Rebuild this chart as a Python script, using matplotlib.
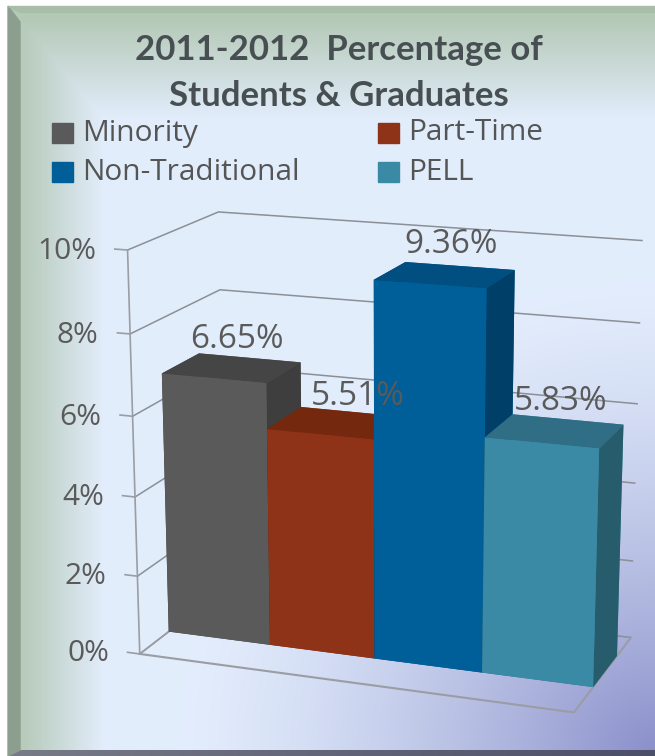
import numpy as np
import matplotlib
matplotlib.use("Agg")
import matplotlib.pyplot as plt
from matplotlib.patches import Rectangle, Polygon
from mpl_toolkits.mplot3d import proj3d

# dados do grafico
categorias = ["Minority", "Part-Time", "Non-Traditional", "PELL"]
valores = [6.65, 5.51, 9.36, 5.83]
rotulos = ["6.65%", "5.51%", "9.36%", "5.83%"]
ticks_z = [0, 2, 4, 6, 8, 10]
ticks_txt = ["0%", "2%", "4%", "6%", "8%", "10%"]

# cores: frente, topo, lateral
frente = ["#5a5a5a", "#8f3318", "#005f99", "#3a8aa5"]
topo = ["#454545", "#74290f", "#004f80", "#2f6e85"]
lado = ["#3e3e3e", "#6a2610", "#003f68", "#265c6c"]

L, A = 655, 756
plt.rcParams["font.family"] = ["Open Sans", "DejaVu Sans"]
fig = plt.figure(figsize=(L / 100, A / 100), dpi=100)

# fundo em degrade
fundo = fig.add_axes([0, 0, 1, 1])
gx, gy = np.meshgrid(np.arange(L) + 0.5, np.arange(A) + 0.5)
azul = np.array([0.89, 0.93, 0.99])
verde = np.array([0.71, 0.79, 0.72])
roxo = np.array([0.54, 0.56, 0.79])
p_verde = np.maximum(np.clip((120 - gy) / 100, 0, 1), np.clip((105 - gx) / 80, 0, 1) * 0.95)
dist = np.hypot((L - gx) / 480, (A - gy) / 480)
p_roxo = np.clip(1 - dist, 0, 1) ** 1.4
img = azul * (1 - p_verde[..., None]) + verde * p_verde[..., None]
img = img * (1 - p_roxo[..., None]) + roxo * p_roxo[..., None]
fundo.imshow(img, extent=(0, L, A, 0), aspect="auto")
fundo.add_patch(Rectangle((0, 0), 8, A, color="white"))
fundo.add_patch(Rectangle((0, 0), L, 6, color="white"))
fundo.add_patch(Polygon([(8, 6), (20, 22), (20, 750), (8, 756)], color="#8c9f8f"))
fundo.add_patch(Polygon([(8, 6), (L, 6), (L, 12), (20, 12)], color="#a9bea9"))
fundo.imshow(np.linspace(0, 1, 200)[None, :, None] * np.array([-0.17, -0.17, -0.12]) + np.array([0.47, 0.48, 0.53]),
             extent=(8, L, 756, 750), aspect="auto")
fundo.set_xlim(0, L)
fundo.set_ylim(A, 0)
fundo.axis("off")

fundo.text(339, 50, "2011-2012  Percentage of", ha="center", va="center", fontsize=25, fontweight="bold", color="#474f52", family="Lato")
fundo.text(339, 96, "Students & Graduates", ha="center", va="center", fontsize=25, fontweight="bold", color="#474f52", family="Lato")

# legenda
pos_leg = [(52, 133), (378, 133), (52, 172), (378, 172)]
for (x, y), nome, c in zip(pos_leg, categorias, frente):
    fundo.add_patch(Rectangle((x, y - 10), 21, 20, color=c))
    fundo.text(x + 30, y, nome, va="center", fontsize=21.5, color="#555555")

# grafico 3d
ax = fig.add_axes([0.079, -0.0166, 1.0, 0.82], projection="3d", computed_zorder=False)
ax.patch.set_alpha(0)
ax.set_proj_type("persp", focal_length=0.72)
ax.view_init(elev=16, azim=-70)
ax.set_box_aspect((4, 1.9, 3.65), zoom=1.025)
ax.set_xlim(0, 4)
ax.set_ylim(0, 1)
ax.set_zlim(0, 10)
ax.set_xticks([])
ax.set_yticks([])
ax.set_zticks(ticks_z)
ax.set_zticklabels([])
for eixo in (ax.xaxis, ax.yaxis, ax.zaxis):
    eixo.set_pane_color((1, 1, 1, 0))
    eixo.pane.set_edgecolor((0, 0, 0, 0))
    eixo.line.set_color((0, 0, 0, 0))
    eixo._axinfo["grid"]["color"] = "#8b8f96"
    eixo._axinfo["grid"]["linewidth"] = 1.1
    eixo._axinfo["tick"]["inward_factor"] = 0
    eixo._axinfo["tick"]["outward_factor"] = 0


def texto(x, y, z, s, **kw):
    # texto 2d na posicao projetada do ponto 3d
    px, py, _ = proj3d.proj_transform(x, y, z, ax.get_proj())
    ax.text2D(px, py, s, transform=ax.transData, va="center", color="#5a5a5a", zorder=10, **kw)


# contorno do piso e eixo vertical
cinza = "#9a9da3"
ax.plot([0, 4, 4], [0, 0, 1], [0, 0, 0], color=cinza, lw=1.5, zorder=1)
ax.plot([0, 0], [0, 1], [0, 0], color=cinza, lw=1.2, zorder=1)
ax.plot([0, 0], [0, 0], [0, 10], color=cinza, lw=1.2, zorder=1)
for z, t in zip(ticks_z, ticks_txt):
    ax.plot([-0.12, 0], [0, 0], [z, z], color=cinza, lw=1.2, zorder=1)
    texto(-0.3, 0, z - 0.1, t, ha="right", fontsize=21.5)

y_ini, prof = 0.32, 0.42
desloc_rot = [0.55, 0.7, 0.55, 0.55]
for i, v in enumerate(valores):
    cores_faces = [topo[i], topo[i], frente[i], frente[i], lado[i], lado[i]]
    ax.bar3d(i, y_ini, 0, 1, prof, v, color=cores_faces, shade=False, edgecolor="none", zorder=2 + i)
    texto(i + desloc_rot[i], y_ini + prof / 2, v + 0.72, rotulos[i], ha="center", fontsize=24)

fig.savefig("out.png", dpi=100)
